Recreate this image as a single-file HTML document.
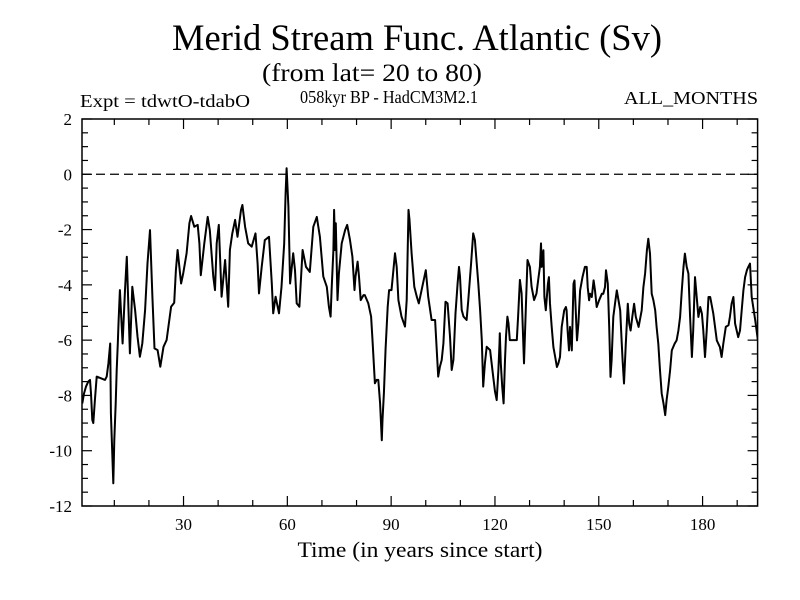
<!DOCTYPE html>
<html><head><meta charset="utf-8"><style>
html,body{margin:0;padding:0;background:#fff;}
svg{display:block;font-family:"Liberation Serif",serif;}
</style></head><body>
<svg id="chart" width="800" height="600" viewBox="0 0 800 600" xmlns="http://www.w3.org/2000/svg">
<rect width="800" height="600" fill="#fff"/>
<text x="417" y="50" font-size="37" text-anchor="middle" textLength="490" lengthAdjust="spacingAndGlyphs">Merid Stream Func. Atlantic (Sv)</text>
<text x="372" y="81" font-size="25" text-anchor="middle" textLength="220" lengthAdjust="spacingAndGlyphs">(from lat= 20 to 80)</text>
<text x="80" y="107" font-size="18" textLength="170" lengthAdjust="spacingAndGlyphs">Expt = tdwtO-tdabO</text>
<text x="300" y="103" font-size="18" textLength="178" lengthAdjust="spacingAndGlyphs">058kyr BP - HadCM3M2.1</text>
<text x="624" y="104" font-size="18" textLength="134" lengthAdjust="spacingAndGlyphs">ALL_MONTHS</text>
<text x="420" y="557" font-size="22" text-anchor="middle" textLength="245" lengthAdjust="spacingAndGlyphs">Time (in years since start)</text>
<g id="axes"></g>
<g id="series"></g>
</svg>
<script>
const years = [0.75,1.24,1.82,2.49,2.98,3.27,3.64,3.93,4.4,4.9,7.3,7.8,8.3,8.8,9.0,9.7,10.0,10.4,10.7,11.0,11.2,11.6,11.9,12.4,13.1,13.6,14.1,14.5,15.2,16.0,16.7,17.4,18.1,18.9,19.6,20.3,21.0,21.6,22.5,23.3,24.2,25.1,26.4,27.3,27.8,28.3,29.3,29.9,30.9,31.7,32.2,33.1,34.1,34.6,35.0,36.0,37.0,37.6,38.6,39.1,39.6,40.2,41.0,42.0,42.9,43.4,44.1,44.9,45.6,46.6,47.0,47.8,48.7,49.7,50.8,51.4,51.8,52.6,53.5,54.7,55.5,55.9,56.6,57.6,58.3,59.1,59.5,59.8,60.3,60.8,61.7,62.2,62.7,63.5,64.4,65.4,66.5,67.5,68.5,69.4,70.4,71.4,72.0,72.5,72.8,73.3,73.5,73.8,74.0,74.5,74.9,75.7,76.7,77.3,78.1,78.8,79.4,79.7,80.3,80.7,81.2,82.0,82.4,83.4,84.2,84.6,85.3,85.8,86.3,86.8,87.3,87.5,87.9,88.4,89.0,89.4,90.1,91.1,91.6,92.1,93.0,94.0,94.5,95.0,95.3,95.9,96.7,97.4,98.0,98.8,100.0,100.7,101.7,102.7,103.6,104.1,104.6,105.1,105.7,106.3,107.0,107.5,108.0,108.6,109.2,109.6,109.9,110.4,110.9,111.8,112.3,113.1,113.7,114.2,115.2,115.7,116.2,116.6,117.1,117.6,118.6,119.5,120.0,120.5,121.0,121.3,121.4,121.7,122.1,122.5,122.9,123.2,123.6,123.9,124.3,125.3,126.3,126.7,127.2,127.7,128.4,129.0,129.4,130.1,130.6,131.3,132.0,132.5,133.0,133.3,133.5,134.0,134.3,134.7,135.3,135.6,135.9,136.4,136.9,137.4,137.9,138.3,138.8,139.3,140.0,140.5,140.7,141.0,141.4,141.7,142.2,142.7,143.0,143.3,143.7,144.1,144.6,145.3,146.0,146.5,146.8,147.2,147.5,148.0,148.5,148.9,149.4,150.1,150.9,151.3,151.8,152.1,152.6,153.0,153.4,153.7,154.2,154.7,155.2,155.7,156.2,156.6,156.9,157.3,157.8,158.4,158.8,159.2,159.7,160.2,160.7,161.5,162.4,162.9,163.4,163.9,164.3,164.8,165.3,165.8,166.3,166.7,167.2,167.7,168.2,168.7,169.2,169.6,170.1,170.6,171.1,171.9,172.5,173.0,173.5,174.0,174.5,174.9,175.4,175.9,176.4,176.9,177.3,177.8,178.3,178.8,179.3,179.8,180.2,180.7,181.2,181.7,182.2,183.1,184.1,185.0,185.5,186.0,186.7,187.5,187.9,188.4,188.9,189.4,190.3,190.8,191.3,191.8,192.3,192.8,193.2,193.7,194.2,195.2,195.6,196.1];
const values = [-8.29,-7.93,-7.68,-7.50,-7.44,-7.93,-8.89,-9.0,-8.17,-7.32,-7.44,-7.32,-6.84,-6.12,-8.65,-11.18,-9.62,-8.29,-7.08,-6.12,-5.39,-4.19,-4.91,-6.12,-4.19,-2.98,-4.91,-6.48,-4.07,-4.91,-5.87,-6.60,-6.12,-4.91,-3.22,-2.02,-4.43,-6.30,-6.36,-6.96,-6.24,-6.0,-4.79,-4.65,-3.47,-2.74,-3.95,-3.59,-2.86,-1.77,-1.51,-1.90,-1.83,-2.50,-3.65,-2.50,-1.54,-2.02,-3.71,-4.19,-2.50,-1.83,-4.43,-3.10,-4.79,-2.74,-2.14,-1.65,-2.26,-1.29,-1.11,-1.90,-2.50,-2.62,-2.14,-3.23,-4.31,-3.35,-2.38,-2.26,-3.95,-5.03,-4.43,-5.03,-4.07,-2.50,-0.69,0.22,-1.17,-3.95,-2.86,-3.47,-4.67,-4.79,-2.74,-3.35,-3.53,-1.90,-1.54,-2.26,-3.70,-4.07,-4.79,-5.15,-4.19,-2.74,-1.29,-2.74,-1.77,-4.55,-3.59,-2.50,-2.02,-1.83,-2.38,-2.98,-4.19,-3.70,-3.16,-3.70,-4.55,-4.37,-4.37,-4.67,-5.15,-6.0,-7.56,-7.44,-7.44,-8.29,-9.62,-8.89,-7.92,-6.30,-4.79,-4.19,-4.19,-2.86,-3.35,-4.55,-5.15,-5.51,-4.55,-1.29,-1.65,-2.86,-4.07,-4.43,-4.67,-4.19,-3.47,-4.43,-5.27,-5.27,-7.32,-6.96,-6.72,-6.12,-4.61,-4.67,-5.87,-7.08,-6.72,-5.03,-3.95,-3.35,-3.70,-4.91,-5.15,-5.27,-4.55,-3.22,-2.14,-2.38,-3.95,-4.91,-6.0,-7.68,-6.84,-6.24,-6.36,-7.32,-7.86,-8.17,-7.08,-6.12,-5.75,-6.84,-7.68,-8.29,-6.72,-5.87,-5.15,-5.39,-6.0,-6.0,-6.0,-5.15,-3.82,-4.31,-6.84,-4.55,-3.10,-3.35,-4.07,-4.55,-4.31,-3.82,-3.35,-2.50,-3.35,-2.75,-4.44,-4.92,-3.96,-3.72,-4.68,-5.52,-6.25,-6.61,-6.97,-6.85,-6.61,-5.52,-4.92,-4.80,-4.92,-5.65,-6.37,-5.52,-6.37,-3.96,-3.84,-4.80,-6.01,-5.40,-4.20,-3.72,-3.35,-3.35,-4.08,-4.56,-4.32,-4.44,-3.84,-4.20,-4.80,-4.56,-4.32,-4.32,-4.08,-3.47,-3.96,-5.52,-7.33,-6.73,-5.16,-4.68,-4.20,-4.56,-4.92,-6.01,-6.73,-7.57,-6.13,-4.68,-5.40,-5.65,-5.16,-4.68,-5.16,-5.52,-4.92,-4.08,-3.59,-2.75,-2.33,-2.87,-4.32,-4.56,-4.92,-5.52,-6.13,-7.09,-7.93,-8.29,-8.71,-8.17,-7.69,-7.09,-6.37,-6.13,-6.01,-5.65,-5.16,-4.20,-3.35,-2.87,-3.35,-3.59,-5.16,-6.61,-5.65,-3.72,-4.44,-5.16,-4.80,-5.04,-5.65,-6.61,-5.65,-4.44,-4.44,-5.04,-6.01,-6.25,-6.61,-6.13,-5.52,-5.46,-5.16,-4.68,-4.44,-5.40,-5.89,-5.65,-4.92,-4.20,-3.72,-3.47,-3.35,-3.23,-4.44,-5.27,-5.65,-6.13,-6.25];
const xTickLabels = [30,60,90,120,150,180];
const xMinorTicks = [10,20,40,50,70,80,100,110,130,140,160,170,190];
const yTickLabels = [2,0,-2,-4,-6,-8,-10,-12];

const X0=82, X1=757.6, Y0=119, Y1=506;
const xMin=0.66, xMax=195.9, yMin=-12, yMax=2;
const sx = v => X0 + (v - xMin) / (xMax - xMin) * (X1 - X0);
const sy = v => Y1 - (v - yMin) / (yMax - yMin) * (Y1 - Y0);
const NS='http://www.w3.org/2000/svg';
const axes=document.getElementById('axes'), series=document.getElementById('series');
function mk(tag, attrs, parent){const e=document.createElementNS(NS,tag);for(const k in attrs)e.setAttribute(k,attrs[k]);parent.appendChild(e);return e;}

const frame=mk('rect',{x:X0,y:Y0,width:X1-X0,height:Y1-Y0,fill:'none',stroke:'#000','stroke-width':1.5},axes);



const zero=mk('line',{x1:X0,x2:X1,y1:sy(0),y2:sy(0),stroke:'#000','stroke-width':1.2,'stroke-dasharray':'9,5'},axes);



xTickLabels.forEach(v=>{
  const x=sx(v);
  const t1=mk('line',{x1:x,x2:x,y1:Y1,y2:Y1-10,stroke:'#000','stroke-width':1.2},axes);
  
  
  const t2=mk('line',{x1:x,x2:x,y1:Y0,y2:Y0+10,stroke:'#000','stroke-width':1.2},axes);
  
  
  const lb=mk('text',{x:x,y:Y1+24,'font-size':17,'text-anchor':'middle'},axes);
  lb.textContent=v;
  
  
});
xMinorTicks.forEach(v=>{
  const x=sx(v);
  const t1=mk('line',{x1:x,x2:x,y1:Y1,y2:Y1-6,stroke:'#000','stroke-width':1.2},axes);
  
  
  const t2=mk('line',{x1:x,x2:x,y1:Y0,y2:Y0+6,stroke:'#000','stroke-width':1.2},axes);
  
  
});
for(let v=yMin; v<=yMax+1e-9; v+=0.5){
  const y=sy(v), major=Math.abs(v-Math.round(v/2)*2)<1e-9;
  const len=major?10:6;
  const t1=mk('line',{x1:X0,x2:X0+len,y1:y,y2:y,stroke:'#000','stroke-width':1.2},axes);
  
  
  const t2=mk('line',{x1:X1,x2:X1-len,y1:y,y2:y,stroke:'#000','stroke-width':1.2},axes);
  
  
}
yTickLabels.forEach(v=>{
  const lb=mk('text',{x:72,y:sy(v)+6,'font-size':17,'text-anchor':'end'},axes);
  lb.textContent=v;
  
  
});

const defs=mk('defs',{},series);
const cp=mk('clipPath',{id:'plotclip'},defs);
mk('rect',{x:X0,y:Y0,width:X1-X0,height:Y1-Y0},cp);
const d=years.map((yr,i)=>(i?'L':'M')+sx(yr).toFixed(1)+','+sy(values[i]).toFixed(1)).join(' ');
const line=mk('path',{d:d,fill:'none',stroke:'#000','stroke-width':2,'stroke-linejoin':'round','clip-path':'url(#plotclip)'},series);


</script>
</body></html>
